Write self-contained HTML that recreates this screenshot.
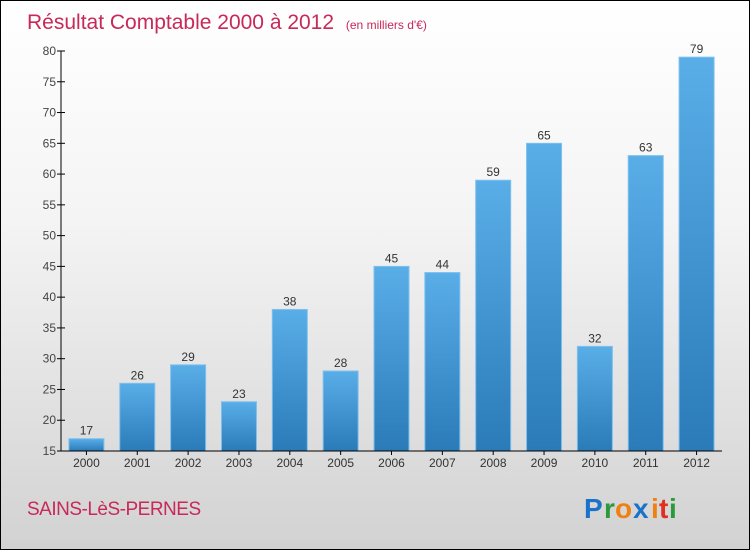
<!DOCTYPE html>
<html><head><meta charset="utf-8"><style>
html,body{margin:0;padding:0}
#c{width:748px;height:548px;border:1px solid #000;background:linear-gradient(#ffffff,#f4f4f4 40%,#d2d2d2);position:relative;overflow:hidden;font-family:"Liberation Sans",sans-serif}
</style></head><body>
<div id="c">
<svg id="s" width="748" height="548" xmlns="http://www.w3.org/2000/svg">
<defs><linearGradient id="bg" x1="0" y1="0" x2="0" y2="1"><stop offset="0" stop-color="#5aaee8"/><stop offset="1" stop-color="#2a7bb8"/></linearGradient></defs>
<text x="26" y="28" font-size="21" fill="#c8285a">Résultat Comptable 2000 à 2012 <tspan font-size="12" dx="6">(en milliers d'€)</tspan></text>
<text x="26" y="514" font-size="19" fill="#c8285a" letter-spacing="-0.5">SAINS-LèS-PERNES</text>
<g font-size="28" font-weight="bold" font-family="'Liberation Sans',sans-serif">
<text x="583" y="517" fill="#1a73c8">P</text><text x="603" y="517" fill="#2a9a3a">r</text><text x="614" y="517" fill="#f08010">o</text><text x="632" y="517" fill="#1a73c8">x</text><text x="650" y="517" fill="#f08010">i</text><text x="658" y="517" fill="#e03020">t</text><text x="668" y="517" fill="#2a9a3a">i</text>
</g>
<g id="plot"></g>
</svg>
</div>
<script>
const categories=["2000","2001","2002","2003","2004","2005","2006","2007","2008","2009","2010","2011","2012"];
const values=[17,26,29,23,38,28,45,44,59,65,32,63,79];
const yTicks=[15,20,25,30,35,40,45,50,55,60,65,70,75,80];
const NS="http://www.w3.org/2000/svg";
const x0=60,x1=721,yTop=50,yBot=450,yMin=15,yMax=80;
const y=v=>yBot-(v-yMin)/(yMax-yMin)*(yBot-yTop);
const step=(x1-x0)/categories.length;
const xc=i=>x0+step*(i+0.5);
const g=document.getElementById('plot');
function mk(t,a){const e=document.createElementNS(NS,t);for(const k in a)e.setAttribute(k,a[k]);g.appendChild(e);return e;}
values.forEach((v,i)=>{
 const r=mk('rect',{x:xc(i)-17.5,y:y(v),width:35,height:yBot-y(v),fill:'url(#bg)',stroke:'#7fc0ee','stroke-width':1});
 
 
 const t=mk('text',{x:xc(i),y:y(v)-4,'text-anchor':'middle','font-size':12,fill:'#333'});
 t.textContent=v;
 
 
 const l=mk('text',{x:xc(i),y:466,'text-anchor':'middle','font-size':12,fill:'#333'});
 l.textContent=categories[i];
 
 
 const tk=mk('line',{x1:xc(i),x2:xc(i),y1:yBot,y2:yBot+4,stroke:'#000'});
 
 
});
yTicks.forEach(v=>{
 const t=mk('text',{x:55,y:y(v)+4,'text-anchor':'end','font-size':12,fill:'#444'});
 t.textContent=v;
 
 
 const tk=mk('line',{x1:x0-4,x2:x0+4,y1:y(v),y2:y(v),stroke:'#000'});
 
 
});
const ya=mk('line',{x1:x0,x2:x0,y1:yTop,y2:yBot,stroke:'#000'});


const xa=mk('line',{x1:x0,x2:x1,y1:yBot,y2:yBot,stroke:'#000'});


</script>
</body></html>
